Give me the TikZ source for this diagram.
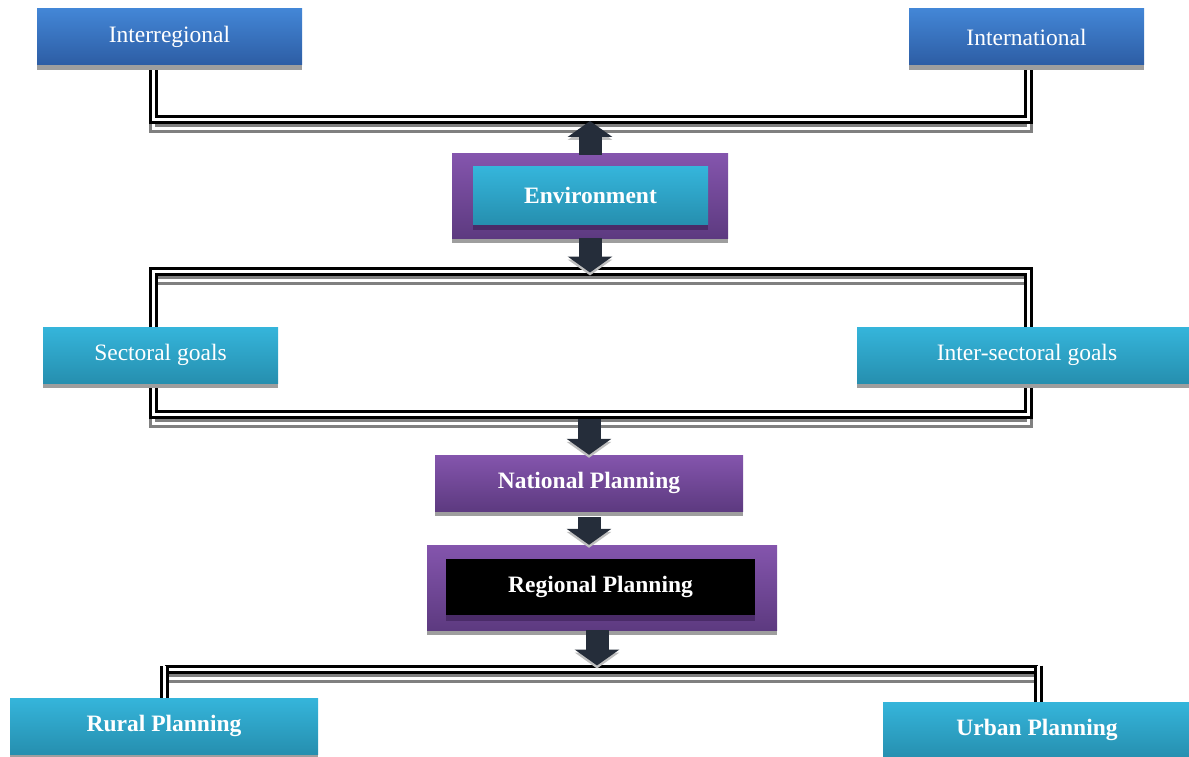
\documentclass[tikz,border=0pt]{standalone}
\usepackage{fontspec}
\setmainfont{Liberation Serif}
\usetikzlibrary{arrows.meta,shadows}

\definecolor{bluetop}{HTML}{4386D6}
\definecolor{bluebot}{HTML}{2D5DA4}
\definecolor{cyantop}{HTML}{35B5DB}
\definecolor{cyanbot}{HTML}{268FAF}
\definecolor{purptop}{HTML}{8455AD}
\definecolor{purpbot}{HTML}{5D3A80}
\definecolor{purpshadow}{HTML}{4A2B68}
\definecolor{arrowcol}{HTML}{252D3A}

\tikzset{
  box/.style={rectangle, inner sep=0pt, text=white,
    font=\fontsize{23.5}{26}\selectfont,
    general shadow={fill=black!38, shadow yshift=-5pt}},
  bluebox/.style={box, top color=bluetop, bottom color=bluebot},
  cyanbox/.style={box, top color=cyantop, bottom color=cyanbot},
  purpbox/.style={box, top color=purptop, bottom color=purpbot},
  blackbox/.style={box, fill=black, general shadow={fill=purpshadow, shadow yshift=-6pt}},
  boldtext/.style={font=\fontsize{23.5}{26}\selectfont\bfseries},
  dline/.style={draw=black, line width=3pt, double=white, double distance=3pt},
  dshadow/.style={draw=black!50, line width=3pt, double=white, double distance=3pt,
    transform canvas={yshift=-9pt}},
  bigarrow/.style={draw=arrowcol, line width=23pt, -{Triangle[width=44pt,length=16pt]}},
  arrowshadow/.style={draw=black!25, line width=23pt, -{Triangle[width=44pt,length=16pt]},
    transform canvas={yshift=-3pt}},
}

\begin{document}
\begin{tikzpicture}[x=1pt,y=-1pt]
\useasboundingbox (0,0) rectangle (1189,757);
\clip (0,0) rectangle (1189,757);

% junction coordinates
\coordinate (j1) at (153,120);
\coordinate (j2) at (1028,120);
\coordinate (j3) at (153,271.5);
\coordinate (j4) at (1028,414.5);
\coordinate (j5) at (164.5,669.5);
\coordinate (j6) at (1038,669.5);

\coordinate (interregS) at (153,65);
\coordinate (internatS) at (1028,65);

% ---- double line shadows
\draw[dshadow] (interregS) -- (j1) -- (j2) -- (internatS);
\draw[dshadow] (j3) rectangle (j4);
\draw[dshadow] (j5) -- (j6);
\draw[dline] (interregS) -- (j1) -- (j2) -- (internatS);
\draw[dline] (j3) rectangle (j4);
\draw[dline] (j5) -- (j6);
\draw[dline] ([yshift=4pt]j5) -- ++(0,35);
\draw[dline] ([yshift=4pt]j6) -- ++(0,38);

% ---- boxes
\node[bluebox, minimum width=265pt, minimum height=56pt] (interreg) at (169.5,37) {Interregional};
\node[bluebox, minimum width=235pt, minimum height=56pt] (internat) at (1026.5,37) {International};

\node[purpbox, minimum width=276pt, minimum height=84pt] (envout) at (590,196) {};
\node[cyanbox, boldtext, general shadow={fill=purpshadow, shadow yshift=-6pt},
      minimum width=235pt, minimum height=57pt] (envin) at (590.5,195.5) {Environment};

\node[cyanbox, minimum width=235pt, minimum height=56pt] (sect) at (160.5,355) {Sectoral goals};
\node[cyanbox, minimum width=340pt, minimum height=56pt] (intersect) at (1027,355) {Inter-sectoral goals};

\node[purpbox, boldtext, minimum width=308pt, minimum height=56pt] (national) at (589,483) {National Planning};

\node[purpbox, minimum width=350pt, minimum height=85pt] (regout) at (602,587.5) {};
\node[blackbox, boldtext, minimum width=309pt, minimum height=56pt] (regin) at (600.5,586.5) {Regional Planning};

\node[cyanbox, boldtext, minimum width=308pt, minimum height=56pt] (rural) at (164,726) {Rural Planning};
\node[cyanbox, boldtext, minimum width=308pt, minimum height=56pt] (urban) at (1037,730) {Urban Planning};

% ---- big arrows
\draw[arrowshadow] ([yshift=4pt]envout.north) -- ([yshift=-1pt]envout.north |- j1);
\draw[bigarrow] ([yshift=-1pt]envout.north) -- ([yshift=-1pt]envout.north |- j1);
\draw[arrowshadow] (envout.south) -- ([yshift=-1pt]envout.south |- j3);
\draw[bigarrow] (envout.south) -- ([yshift=-1pt]envout.south |- j3);
\draw[arrowshadow] ([yshift=-4pt]national.north |- j4) -- (national.north);
\draw[bigarrow] ([yshift=-4pt]national.north |- j4) -- (national.north);
\draw[arrowshadow] ([yshift=-6pt]national.south) -- (national.south |- regout.north);
\draw[bigarrow] ([yshift=-6pt]national.south) -- (national.south |- regout.north);
\draw[arrowshadow] ([xshift=-5pt]regout.south) -- ([xshift=-5pt,yshift=4pt]regout.south |- j5);
\draw[bigarrow] ([xshift=-5pt]regout.south) -- ([xshift=-5pt,yshift=4pt]regout.south |- j5);
\end{tikzpicture}
\end{document}
